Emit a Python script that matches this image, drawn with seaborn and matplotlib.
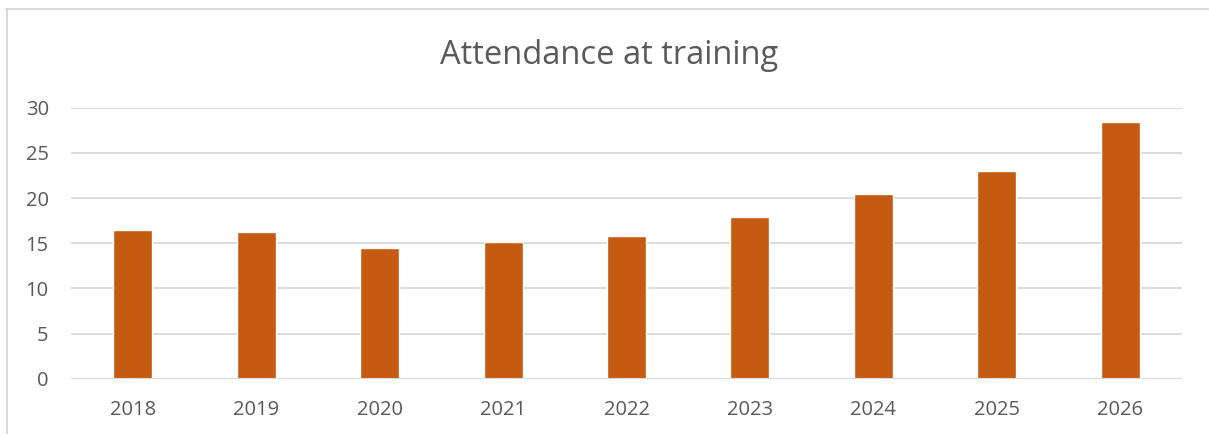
import matplotlib
matplotlib.use("Agg")
import matplotlib.pyplot as plt
import seaborn as sns
import pandas as pd
from matplotlib.lines import Line2D

years = ["2018", "2019", "2020", "2021", "2022", "2023", "2024", "2025", "2026"]
attendance = [16.5, 16.25, 14.5, 15.1, 15.8, 17.9, 20.5, 23.0, 28.4]
yticks = [0, 5, 10, 15, 20, 25, 30]

df = pd.DataFrame({"year": years, "attendance": attendance})

sns.set_theme(style="white")
plt.rcParams["font.family"] = ["Open Sans", "DejaVu Sans"]

fig = plt.figure(figsize=(12.09, 4.34), dpi=100)
ax = fig.add_axes([0.0587, 0.1274, 0.9190, 0.6244])

sns.barplot(data=df, x="year", y="attendance", color="#C55A11", saturation=1,
            width=0.316, ax=ax, zorder=3)

ax.set_ylim(0, 30)
ax.set_xlim(-0.5, len(years) - 0.5)
ax.set_yticks(yticks)
ax.yaxis.grid(True, color="#D9D9D9", linewidth=1.3, zorder=0)
ax.set_axisbelow(True)
for s in ax.spines.values():
    s.set_visible(False)
ax.axhline(0, color="#D9D9D9", linewidth=1.5, zorder=4)
ax.set_xlabel("")
ax.set_ylabel("")
ax.tick_params(axis="both", length=0, labelsize=14.5, labelcolor="#595959")
ax.tick_params(axis="x", pad=15)
ax.tick_params(axis="y", pad=16)
for lbl in ax.get_yticklabels():
    lbl.set_horizontalalignment("right")

fig.text(0.5037, 0.873, "Attendance at training", ha="center", va="center",
         fontsize=23.5, color="#595959")

# outer chart-area border (top and left visible)
fig.add_artist(Line2D([0.005, 1.0], [0.980, 0.980], color="#D9D9D9", linewidth=1.5,
                      transform=fig.transFigure))
fig.add_artist(Line2D([0.0055, 0.0055], [0.0, 0.980], color="#D9D9D9", linewidth=1.5,
                      transform=fig.transFigure))

fig.savefig("out.png", dpi=100, facecolor="white")
